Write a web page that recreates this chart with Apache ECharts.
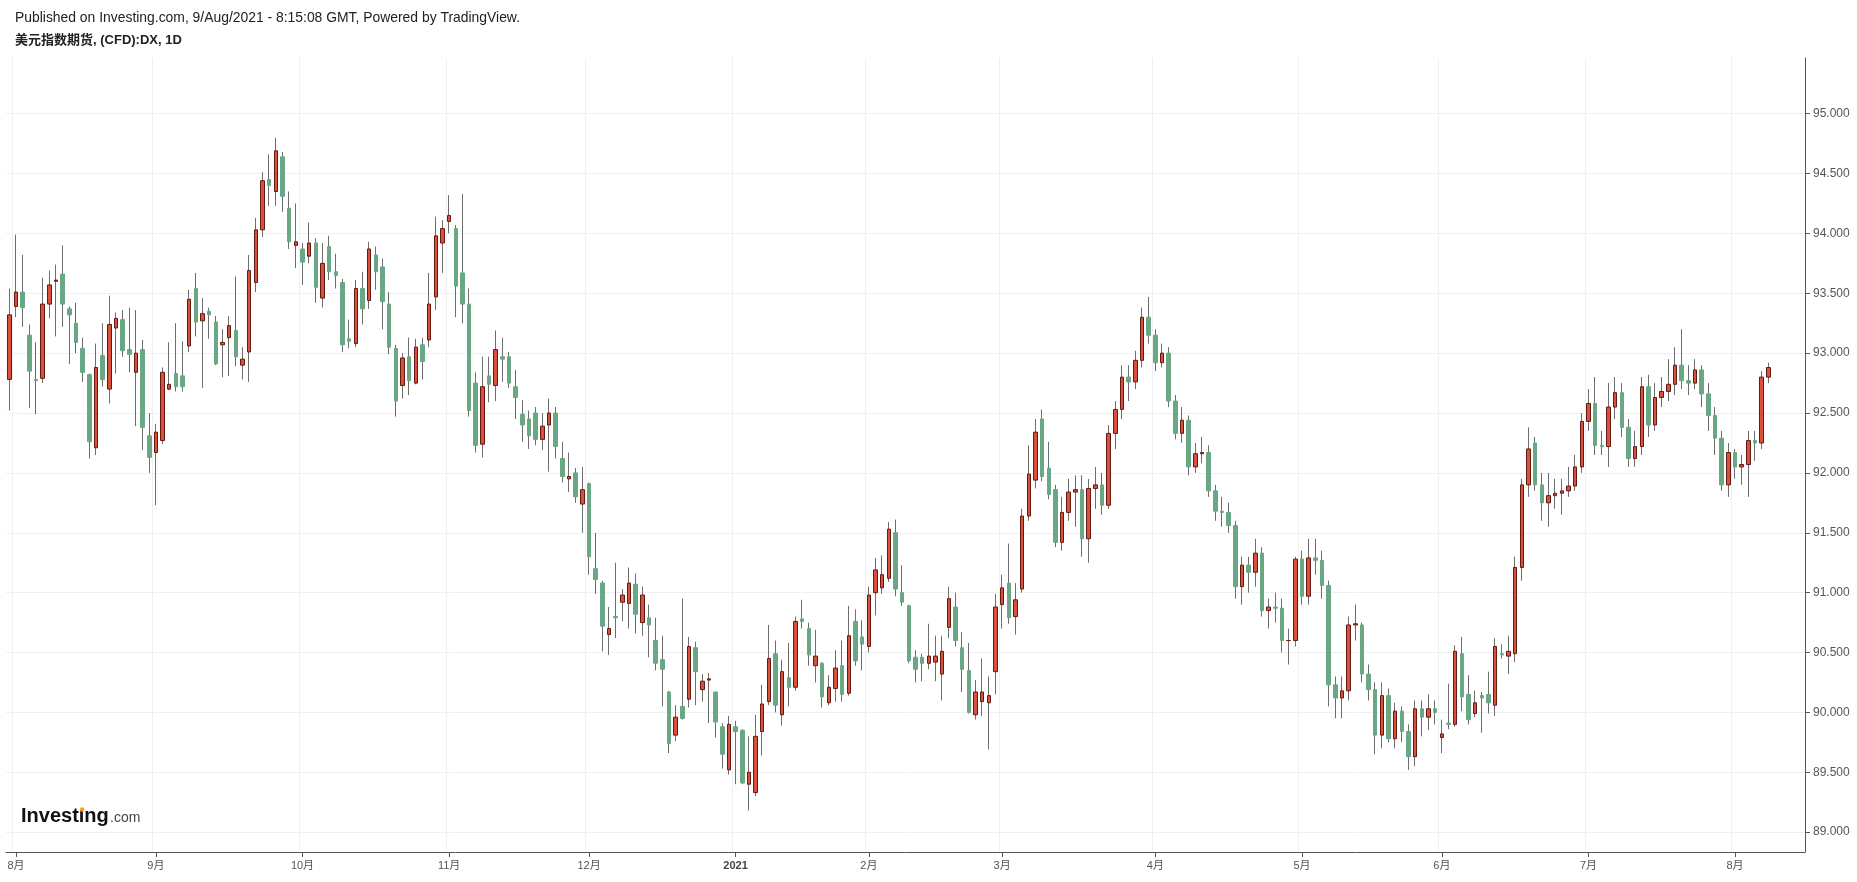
<!DOCTYPE html>
<html>
<head>
<meta charset="utf-8">
<script src="https://cdn.jsdelivr.net/npm/echarts@6/dist/echarts.min.js"></script>
<style>
html,body{margin:0;padding:0;background:#ffffff;}
#chart{width:1857px;height:882px;}
</style>
</head>
<body>
<div id="chart"></div>
<script>
// ---- Data: daily [open, high, low, close] per month ----
const jul2020 = [[92.78,93.54,92.52,93.32]];
const aug2020 = [
[93.39,93.99,93.30,93.51],[93.51,93.82,93.22,93.38],[93.15,93.24,92.54,92.85],[92.78,93.09,92.49,92.77],[92.79,93.63,92.75,93.41],
[93.41,93.69,93.29,93.57],[93.60,93.74,93.14,93.61],[93.66,93.90,93.22,93.41],[93.37,93.39,92.91,93.32],[93.25,93.42,93.00,93.09],
[93.04,93.13,92.76,92.84],[92.82,92.83,92.12,92.26],[92.21,93.08,92.15,92.88],[92.98,93.25,92.72,92.78],[92.70,93.48,92.58,93.24],
[93.21,93.34,92.83,93.29],[93.28,93.36,92.97,93.02],[93.03,93.38,92.84,92.99],[92.84,93.36,92.39,93.00],[93.03,93.11,92.19,92.38],
[92.31,92.50,92.00,92.13]];
const sep2020 = [
[92.17,92.41,91.73,92.34],[92.27,92.88,92.24,92.84],[92.70,93.09,92.69,92.74],[92.83,93.25,92.68,92.72],
[92.81,93.10,92.68,92.72],[93.06,93.53,93.01,93.45],[93.54,93.67,93.14,93.26],[93.27,93.46,92.71,93.33],[93.35,93.38,93.12,93.32],
[93.26,93.31,92.90,92.91],[93.07,93.20,92.80,93.09],[93.13,93.31,92.81,93.23],[93.19,93.64,92.89,92.97],[92.90,93.05,92.78,92.95],
[93.01,93.82,92.76,93.69],[93.59,94.13,93.51,94.03],[94.03,94.51,93.97,94.44],[94.45,94.66,94.23,94.40],[94.35,94.80,94.23,94.69],
[94.64,94.68,94.18,94.31],[94.21,94.35,93.87,93.93],[93.90,94.25,93.71,93.93]];
const oct2020 = [
[93.87,93.92,93.57,93.76],[93.81,94.09,93.75,93.92],
[93.92,93.96,93.42,93.55],[93.46,93.92,93.38,93.75],[93.89,93.98,93.61,93.68],[93.68,93.83,93.54,93.65],[93.59,93.62,93.01,93.07],
[93.12,93.28,93.04,93.10],[93.08,93.61,93.05,93.54],[93.54,93.68,93.24,93.37],[93.44,93.93,93.37,93.87],[93.82,93.89,93.53,93.68],
[93.72,93.79,93.20,93.43],[93.41,93.51,92.99,93.05],[93.04,93.07,92.47,92.60],[92.73,93.00,92.62,92.96],[92.97,93.13,92.65,92.77],
[92.75,93.12,92.74,93.05],[93.07,93.13,92.78,92.93],[93.11,93.67,93.05,93.41],[93.47,94.14,93.36,93.98],[93.92,94.11,93.67,94.04]];
const nov2020 = [
[94.10,94.32,94.00,94.15],[94.04,94.07,93.30,93.56],[93.67,94.33,93.25,93.41],[93.41,93.54,92.47,92.52],[92.75,92.84,92.17,92.23],
[92.24,92.97,92.13,92.72],[92.81,92.97,92.59,92.74],[92.73,93.19,92.60,93.03],[92.97,93.13,92.76,92.95],[92.97,93.01,92.71,92.75],
[92.72,92.86,92.45,92.63],[92.49,92.61,92.26,92.40],[92.45,92.52,92.20,92.31],[92.50,92.55,92.23,92.28],[92.28,92.50,92.19,92.39],
[92.40,92.62,92.01,92.50],[92.50,92.55,92.12,92.22],[92.12,92.26,91.92,91.97],[91.95,92.17,91.84,91.97],[92.00,92.04,91.75,91.80],
[91.74,92.05,91.50,91.86]];
const dec2020 = [
[91.91,91.92,91.15,91.30],[91.20,91.50,90.99,91.11],[91.08,91.10,90.51,90.72],[90.65,90.88,90.48,90.70],
[90.80,91.25,90.62,90.79],[90.92,91.03,90.76,90.98],[90.91,91.21,90.70,91.08],[91.07,91.16,90.66,90.82],[90.75,91.05,90.64,90.98],
[90.79,90.90,90.46,90.73],[90.60,90.79,90.35,90.41],[90.44,90.64,90.05,90.36],[90.17,90.18,89.66,89.74],[89.81,90.06,89.76,89.96],
[90.05,90.95,89.94,89.95],[90.11,90.63,90.04,90.55],[90.54,90.59,90.06,90.34],[90.19,90.32,90.09,90.26],
[90.27,90.33,89.91,90.28],[90.17,90.17,89.79,89.92],[89.88,89.91,89.53,89.65],[89.52,89.97,89.48,89.90]];
const jan2021 = [
[89.88,89.93,89.40,89.84],[89.85,89.86,89.40,89.41],[89.40,89.80,89.18,89.50],[89.33,89.98,89.30,89.80],[89.84,90.23,89.64,90.07],
[90.09,90.73,90.06,90.45],[90.49,90.60,90.00,90.06],[89.98,90.44,89.89,90.34],[90.29,90.58,90.05,90.21],[90.21,90.80,90.18,90.76],
[90.78,90.94,90.70,90.76],[90.70,90.75,90.39,90.48],[90.39,90.69,90.25,90.47],[90.41,90.42,90.04,90.13],[90.08,90.31,90.06,90.21],
[90.20,90.52,90.09,90.37],[90.39,90.60,90.09,90.15],[90.16,90.89,90.14,90.64],[90.76,90.86,90.39,90.43],[90.63,90.77,90.35,90.57]];
const feb2021 = [
[90.55,91.05,90.50,90.98],[91.00,91.29,90.81,91.19],[91.04,91.31,90.99,91.15],[91.12,91.59,91.09,91.53],[91.50,91.61,90.97,91.03],
[91.00,91.23,90.89,90.92],[90.89,90.90,90.41,90.43],[90.46,90.52,90.25,90.36],[90.46,90.49,90.26,90.41],[90.41,90.74,90.36,90.47],
[90.42,90.64,90.26,90.47],[90.32,90.64,90.10,90.51],[90.71,91.05,90.62,90.95],[90.88,91.00,90.55,90.60],[90.54,90.67,90.17,90.36],
[90.35,90.58,89.99,90.00],[89.98,90.27,89.94,90.17],[90.09,90.45,89.97,90.17],[90.08,90.30,89.69,90.14],[90.34,90.99,90.15,90.88]];
const mar2021 = [
[90.90,91.15,90.70,91.04],[91.08,91.41,90.74,90.79],[90.80,91.08,90.65,90.94],[91.03,91.70,91.00,91.64],[91.64,92.23,91.60,91.99],
[91.94,92.45,91.87,92.34],[92.45,92.53,91.93,91.97],[92.04,92.26,91.78,91.82],[91.86,91.90,91.38,91.42],[91.42,91.80,91.35,91.67],
[91.67,91.95,91.60,91.84],[91.84,91.98,91.55,91.86],[91.86,91.98,91.30,91.45],[91.45,91.95,91.25,91.87],[91.87,92.05,91.70,91.90],
[91.90,92.00,91.65,91.73],[91.73,92.40,91.70,92.33],[92.33,92.60,92.20,92.53],[92.53,92.90,92.45,92.80],[92.80,92.90,92.60,92.76],
[92.76,93.02,92.70,92.94],[92.94,93.38,92.88,93.30],[93.30,93.47,93.08,93.15]];
const apr2021 = [
[93.15,93.20,92.85,92.92],[92.92,93.08,92.88,93.00],
[93.00,93.05,92.55,92.60],[92.60,92.65,92.28,92.33],[92.33,92.55,92.25,92.44],[92.44,92.48,91.98,92.05],[92.05,92.25,92.00,92.16],
[92.16,92.30,92.08,92.17],[92.17,92.23,91.80,91.85],[91.85,91.90,91.60,91.68],[91.68,91.80,91.55,91.67],[91.67,91.75,91.50,91.56],
[91.56,91.60,90.95,91.05],[91.05,91.30,90.90,91.23],[91.23,91.30,91.00,91.17],[91.17,91.45,91.05,91.33],[91.33,91.38,90.80,90.85],
[90.85,90.95,90.70,90.88],[90.88,91.00,90.75,90.87],[90.87,90.95,90.50,90.60],[90.60,90.70,90.40,90.60],[90.60,91.30,90.55,91.28]];
const may2021 = [
[91.28,91.35,90.90,90.97],[90.97,91.45,90.90,91.29],[91.29,91.45,91.15,91.27],[91.27,91.35,90.95,91.06],[91.06,91.10,90.05,90.23],
[90.23,90.30,89.95,90.12],[90.12,90.30,89.95,90.18],[90.18,90.80,90.10,90.73],[90.73,90.90,90.60,90.74],[90.73,90.75,90.25,90.32],
[90.32,90.40,90.10,90.19],[90.19,90.25,89.65,89.81],[89.81,90.25,89.70,90.14],[90.14,90.20,89.75,89.78],[89.78,90.08,89.70,90.01],
[90.01,90.05,89.75,89.84],[89.84,89.90,89.52,89.63],[89.63,90.10,89.55,90.03],[90.03,90.10,89.80,89.96],[89.96,90.15,89.85,90.03],
[90.03,90.10,89.90,90.00]];
const jun2021 = [
[89.79,89.94,89.66,89.82],[89.91,90.24,89.86,89.90],[89.90,90.56,89.88,90.51],[90.49,90.63,90.01,90.13],
[90.15,90.31,89.90,89.94],[89.99,90.18,89.96,90.08],[90.14,90.17,89.83,90.12],[90.15,90.34,89.99,90.08],[90.06,90.62,89.97,90.55],
[90.49,90.57,90.45,90.48],[90.47,90.64,90.32,90.51],[90.49,91.30,90.42,91.21],[91.21,91.95,91.10,91.90],[91.90,92.38,91.80,92.20],
[92.25,92.30,91.85,91.90],[91.90,92.00,91.60,91.75],[91.75,92.00,91.55,91.81],[91.81,91.95,91.70,91.83],[91.83,91.95,91.65,91.85],
[91.85,92.05,91.80,91.89],[91.89,92.15,91.85,92.05],[92.05,92.50,92.00,92.43]];
const jul2021 = [
[92.43,92.70,92.35,92.58],[92.58,92.80,92.15,92.23],
[92.23,92.35,92.15,92.22],[92.22,92.75,92.05,92.55],[92.55,92.80,92.45,92.67],[92.67,92.75,92.30,92.38],[92.38,92.45,92.05,92.12],
[92.12,92.35,92.05,92.22],[92.22,92.80,92.15,92.72],[92.72,92.82,92.30,92.40],[92.40,92.75,92.35,92.63],[92.63,92.80,92.55,92.68],
[92.68,92.95,92.60,92.74],[92.74,93.05,92.65,92.90],[92.90,93.20,92.70,92.77],[92.77,92.90,92.65,92.75],[92.75,92.95,92.70,92.86],
[92.86,92.90,92.55,92.66],[92.66,92.75,92.35,92.48],[92.48,92.55,92.15,92.29],[92.29,92.35,91.85,91.90],[91.90,92.25,91.80,92.17]];
const aug2021 = [
[92.17,92.20,91.95,92.05],[92.05,92.15,91.90,92.07],[92.07,92.35,91.80,92.27],[92.27,92.35,92.10,92.25],[92.25,92.85,92.20,92.80],
[92.80,92.92,92.75,92.88]];

// Trading calendar (weekdays, two closed days)
const firstDay = [2020, 6, 31];
const lastDay = [2021, 7, 9];
const closedDays = ['2020-12-25', '2021-01-01'];
const emptySlotsAfter = 5;

// Month tick positions and labels
const tickDates = ['2020-08-03','2020-09-01','2020-10-01','2020-11-02','2020-12-01','2021-01-04','2021-02-01','2021-03-01','2021-04-01','2021-05-03','2021-06-01','2021-07-01','2021-08-02'];
const tickLabels = ['8月','9月','10月','11月','12月','2021','2月','3月','4月','5月','6月','7月','8月'];

// Price axis
const priceMin = 88.834, priceMax = 95.465, priceStep = 0.5;

// ---- Build ----
const ohlc = [].concat(jul2020, aug2020, sep2020, oct2020, nov2020, dec2020, jan2021, feb2021, mar2021, apr2021, may2021, jun2021, jul2021, aug2021);

function tradingDates() {
  const out = [];
  const d = new Date(Date.UTC(firstDay[0], firstDay[1], firstDay[2]));
  const end = Date.UTC(lastDay[0], lastDay[1], lastDay[2]);
  while (d.getTime() <= end) {
    const wd = d.getUTCDay();
    const s = d.toISOString().slice(0, 10);
    if (wd !== 0 && wd !== 6 && closedDays.indexOf(s) < 0) out.push(s);
    d.setUTCDate(d.getUTCDate() + 1);
  }
  return out;
}
const dates = tradingDates();
if (dates.length !== ohlc.length) console.warn('length mismatch', dates.length, ohlc.length);
const categories = dates.slice();
for (let i = 0; i < emptySlotsAfter; i++) categories.push('pad' + i);

const labelMap = {};
tickDates.forEach((d, i) => { labelMap[d] = tickLabels[i]; });
const isTick = (idx, val) => labelMap.hasOwnProperty(val);

const wickData = ohlc.map(r => [r[0], r[3], r[2], r[1]]);
const bodyData = ohlc.map(r => [r[0], r[3], Math.min(r[0], r[3]), Math.max(r[0], r[3])]);

const FONT = '"Liberation Sans", Arial, "Noto Sans CJK SC", sans-serif';
const chart = echarts.init(document.getElementById('chart'), null, {renderer: 'canvas'});
chart.setOption({
  animation: false,
  backgroundColor: '#ffffff',
  grid: {left: 6, right: 52, top: 58, bottom: 30},
  tooltip: {show: false},
  xAxis: {
    type: 'category',
    data: categories,
    boundaryGap: true,
    axisLine: {show: true, lineStyle: {color: '#555555', width: 1}},
    axisTick: {show: true, alignWithLabel: true, interval: isTick, length: 5, lineStyle: {color: '#555555', width: 1}},
    axisLabel: {
      show: true, interval: isTick, margin: 8, color: '#555555', fontSize: 11, fontFamily: FONT,
      formatter: v => { const l = labelMap[v] || ''; return l === '2021' ? '{b|2021}' : l; },
      rich: {b: {fontWeight: 'bold', color: '#444444', fontSize: 11, fontFamily: FONT}}
    },
    splitLine: {show: true, interval: isTick, lineStyle: {color: '#f0f0f0', width: 1}}
  },
  yAxis: {
    type: 'value',
    position: 'right',
    min: priceMin, max: priceMax,
    splitNumber: 13, minInterval: priceStep, maxInterval: priceStep,
    axisLine: {show: true, lineStyle: {color: '#555555', width: 1}},
    axisTick: {show: true, length: 5, lineStyle: {color: '#555555', width: 1}},
    axisLabel: {
      show: true, margin: 8, color: '#555555', fontSize: 12, fontFamily: FONT,
      showMinLabel: false, showMaxLabel: false,
      formatter: v => v.toFixed(3)
    },
    splitLine: {show: true, showMinLine: false, showMaxLine: false, lineStyle: {color: '#f0f0f0', width: 1}}
  },
  series: [
    {
      name: 'wick', type: 'candlestick', data: wickData, barWidth: 1, silent: true,
      itemStyle: {color: '#6e6e6e', color0: '#6e6e6e', borderColor: '#6e6e6e', borderColor0: '#6e6e6e', borderColorDoji: '#6e6e6e', borderWidth: 1}
    },
    {
      name: 'body', type: 'candlestick', data: bodyData, barWidth: 4, silent: true,
      itemStyle: {color: '#d9503b', color0: '#6aa784', borderColor: '#631a12', borderColor0: '#6aa784', borderColorDoji: '#631a12', borderWidth: 1}
    }
  ],
  graphic: [
    {type: 'text', x: 15, y: 18, silent: true,
     style: {text: 'Published on Investing.com, 9/Aug/2021 - 8:15:08 GMT, Powered by TradingView.', font: '13.9px ' + FONT, fill: '#222222', align: 'left', verticalAlign: 'middle'}},
    {type: 'text', x: 15, y: 40, silent: true,
     style: {text: '美元指数期货, (CFD):DX, 1D', font: 'bold 13px ' + FONT, fill: '#222222', align: 'left', verticalAlign: 'middle'}},
    {type: 'text', x: 21, y: 816, silent: true,
     style: {text: 'Investıng', font: 'bold 20px ' + FONT, fill: '#111111', align: 'left', verticalAlign: 'middle'}},
    {type: 'text', x: 110, y: 818, silent: true,
     style: {text: '.com', font: '14px ' + FONT, fill: '#444444', align: 'left', verticalAlign: 'middle'}},
    {type: 'circle', silent: true, shape: {cx: 82, cy: 809.5, r: 2.2}, style: {fill: '#f5a01a'}}
  ]
});
</script>
</body>
</html>
